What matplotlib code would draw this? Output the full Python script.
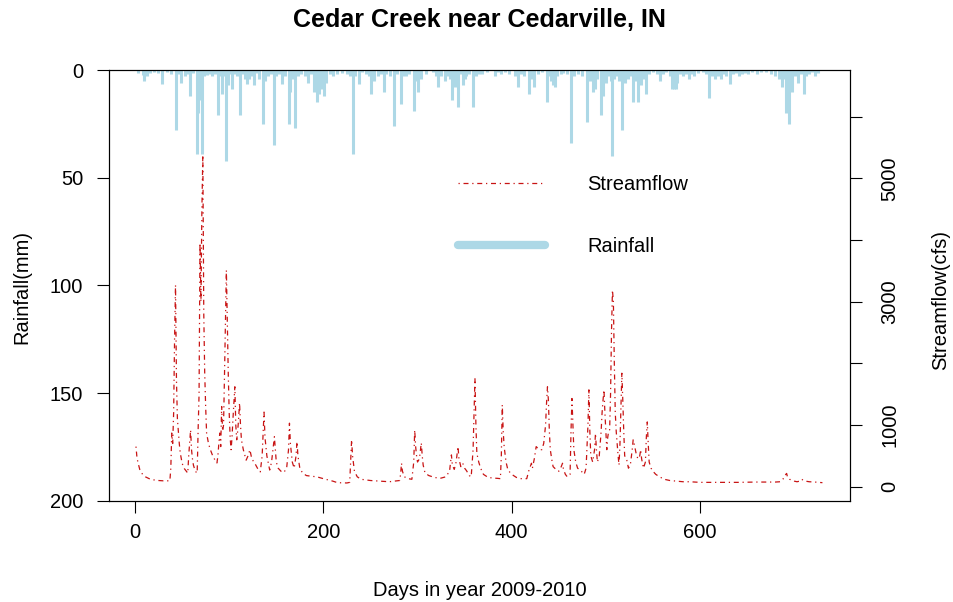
import matplotlib
matplotlib.use("Agg")
import matplotlib.pyplot as plt
from matplotlib.lines import Line2D

plt.rcParams['font.family'] = ['Liberation Sans', 'DejaVu Sans']

# --- data ---
# daily rainfall (mm), only days with rain
rain_days = [3, 8, 10, 13, 16, 20, 24, 29, 34, 38, 43, 46, 49, 53, 55, 58, 62, 66, 67, 68,
             71, 73, 76, 79, 82, 85, 88, 90, 92, 95, 97, 99, 101, 103, 106, 108, 111, 114, 117, 119,
             121, 123, 126, 129, 132, 136, 138, 141, 144, 148, 150, 153, 156, 159, 163, 165, 168, 170, 173, 176,
             181, 184, 187, 190, 193, 195, 197, 199, 201, 203, 207, 210, 215, 220, 225, 228, 231, 234, 238, 241,
             245, 248, 251, 254, 258, 261, 264, 267, 271, 275, 278, 282, 285, 288, 291, 296, 299, 301, 304, 309,
             316, 320, 322, 325, 329, 332, 335, 337, 340, 343, 346, 348, 350, 352, 355, 359, 362, 365, 369, 374,
             382, 385, 389, 393, 397, 403, 407, 410, 413, 418, 421, 424, 428, 432, 437, 440, 442, 444, 446, 448,
             452, 455, 459, 463, 466, 470, 475, 480, 483, 486, 488, 491, 495, 497, 500, 503, 505, 507, 509, 512,
             514, 517, 520, 523, 526, 529, 532, 534, 537, 540, 543, 546, 550, 554, 557, 561, 564, 568, 570, 572,
             574, 576, 579, 582, 585, 588, 591, 594, 598, 603, 606, 610, 613, 616, 619, 622, 625, 628, 632, 635,
             638, 641, 645, 648, 651, 655, 660, 665, 670, 675, 680, 684, 687, 689, 691, 694, 696, 698, 701, 704,
             707, 710, 713, 716, 719, 722, 725]
rain_mm = [1.5, 2.5, 5, 3, 1.5, 1, 1.5, 6.5, 1, 2, 28, 2, 6, 3, 2, 12, 1.5, 39, 20, 14,
           39, 3, 2.5, 2, 3, 2, 21, 3, 11, 3, 42, 7, 2, 9, 2, 3, 21, 2, 4, 6.5,
           4, 3, 7, 1.5, 4, 25, 5, 3, 2, 35, 3, 2, 6.5, 3, 25, 10, 4, 27, 3, 2,
           3, 6, 2, 10, 15, 11, 9, 5, 12, 6, 2, 3, 2, 1.5, 2, 3, 39, 3, 6.5, 1,
           2, 3, 11, 5, 3, 2, 10, 2, 3, 26, 2, 16, 3, 3, 2, 19, 5, 10, 4, 2,
           1, 3, 8, 3, 5, 3, 4, 14, 8, 17, 2, 7, 4, 3, 2, 17, 3, 2, 2, 1,
           3, 1, 2, 1, 2, 3, 8, 2, 3, 11, 4, 8, 2, 1, 15, 3, 5, 7, 8, 3,
           2, 1.5, 2, 34, 3, 2, 3, 24, 5, 10, 9, 4, 21, 12, 6, 3, 5, 40, 4, 3,
           5, 28, 6, 4, 3, 15, 5, 15, 7, 4, 11, 2, 1, 2, 5, 2, 1, 3, 9, 9,
           9, 6, 2, 3, 2, 4, 2, 3, 1.5, 1, 2, 13, 3, 4, 3, 4, 2, 3, 6.5, 2,
           1.5, 3, 2, 1.5, 2, 1, 2, 1, 1, 2, 3, 4, 8, 4, 20, 25, 6, 10, 3, 6,
           2, 11, 3, 2, 1, 3, 1.5]

# streamflow (cfs) at the turning points of the hydrograph
flow_days = [1, 2, 3, 5, 8, 11, 15, 20, 25, 30, 37, 38, 39, 40, 41, 42, 43, 44, 45, 46,
             47, 48, 50, 52, 55, 56, 57, 58, 59, 60, 61, 62, 64, 66, 67, 68, 69, 70, 71, 72,
             73, 74, 75, 76, 78, 80, 83, 87, 88, 89, 90, 91, 92, 93, 94, 95, 96, 97, 98, 99,
             100, 101, 102, 103, 104, 106, 107, 108, 109, 110, 111, 112, 113, 115, 118, 120, 122, 124, 127, 130,
             133, 135, 137, 138, 140, 143, 145, 148, 149, 150, 152, 155, 158, 161, 163, 164, 165, 167, 169, 171,
             172, 173, 175, 178, 182, 187, 193, 200, 210, 215, 225, 228, 229, 230, 231, 233, 236, 240, 250, 260,
             270, 281, 282, 283, 284, 286, 290, 294, 296, 297, 298, 299, 300, 302, 304, 305, 306, 308, 312, 318,
             324, 330, 334, 336, 337, 339, 341, 343, 344, 346, 348, 350, 352, 355, 357, 359, 360, 361, 362, 363,
             365, 367, 370, 375, 380, 385, 388, 389, 390, 391, 392, 394, 396, 400, 405, 410, 416, 418, 421, 422,
             424, 426, 428, 430, 432, 434, 436, 437, 438, 439, 440, 441, 443, 444, 447, 450, 452, 454, 455, 457,
             459, 462, 463, 464, 465, 466, 468, 470, 474, 477, 479, 481, 482, 483, 484, 486, 488, 489, 490, 491,
             493, 494, 495, 496, 497, 498, 499, 500, 501, 502, 503, 504, 505, 506, 507, 508, 509, 510, 511, 513,
             514, 515, 516, 517, 518, 519, 520, 522, 524, 526, 528, 529, 530, 532, 534, 536, 537, 538, 540, 542,
             543, 544, 545, 546, 548, 550, 553, 557, 562, 568, 575, 582, 589, 600, 620, 640, 660, 680, 685, 688,
             690, 692, 693, 695, 697, 700, 703, 706, 708, 710, 712, 716, 722, 730]
flow_cfs = [650, 480, 400, 280, 200, 160, 130, 110, 100, 95, 95, 300, 870, 700, 1200, 2400, 3270, 1730, 1100, 900,
            700, 550, 380, 300, 240, 220, 500, 700, 920, 600, 450, 350, 250, 220, 920, 1500, 3950, 3000, 4500, 5380,
            2810, 1840, 1300, 870, 700, 600, 480, 385, 500, 700, 870, 650, 1300, 900, 1000, 1800, 2700, 3510, 2700, 1840,
            1200, 800, 600, 800, 1100, 1620, 1000, 760, 900, 1100, 1360, 1000, 760, 600, 430, 500, 600, 450, 385, 300,
            240, 500, 1210, 800, 500, 270, 400, 810, 600, 400, 300, 250, 230, 300, 600, 1030, 700, 400, 300, 500,
            730, 500, 300, 220, 180, 170, 160, 130, 90, 65, 60, 70, 400, 760, 500, 250, 160, 120, 100, 90,
            80, 100, 200, 380, 250, 160, 130, 120, 400, 920, 650, 500, 400, 450, 710, 500, 350, 220, 180, 150,
            135, 160, 250, 515, 350, 280, 400, 650, 450, 325, 380, 300, 260, 180, 160, 600, 1160, 1760, 1000, 540,
            400, 300, 200, 150, 140, 135, 130, 500, 1325, 900, 650, 400, 270, 200, 150, 130, 130, 250, 380, 300,
            450, 650, 620, 600, 600, 700, 1000, 1350, 1620, 1400, 900, 600, 400, 325, 280, 250, 300, 380, 280, 200,
            160, 200, 900, 1430, 1000, 600, 400, 300, 250, 200, 300, 1000, 1570, 900, 500, 400, 600, 865, 600, 400,
            500, 700, 900, 1200, 1400, 1570, 1200, 900, 600, 800, 900, 920, 1500, 2500, 3190, 3000, 2000, 1200, 900, 500,
            350, 700, 1300, 1840, 1400, 900, 500, 450, 300, 350, 600, 760, 700, 550, 450, 500, 600, 450, 300, 400,
            800, 1050, 700, 400, 300, 250, 200, 160, 120, 100, 90, 80, 80, 70, 70, 70, 75, 75, 80, 120,
            180, 215, 150, 120, 110, 90, 80, 90, 120, 100, 90, 80, 75, 65]

rain_ticks = [0, 50, 100, 150, 200]
flow_ticks = [0, 1000, 2000, 3000, 4000, 5000, 6000]
flow_labels = ['0', '1000', '', '3000', '', '5000', '']
day_ticks = [0, 200, 400, 600]

FS = 14.5
RED = '#C81414'
fig = plt.figure(figsize=(9.54, 6.02), dpi=100)
ax = fig.add_axes([0.1143, 0.1678, 0.7767, 0.7159])

# rainfall bars hanging from the top
ax.vlines(rain_days, 0, rain_mm, color='#ADD8E6', linewidth=2.2, capstyle='butt')
ax.set_ylim(200, 0)
ax.set_xlim(-27.6, 759.3)
ax.set_yticks(rain_ticks)
ax.set_xticks(day_ticks)
ax.tick_params(axis='y', labelsize=FS, length=8.6, width=0.8, pad=10)
ax.tick_params(axis='x', labelsize=FS, length=8.6, width=0.8, pad=7)
for s in ax.spines.values():
    s.set_linewidth(0.8)

# streamflow on the right axis
ax2 = ax.twinx()
ax2.plot(flow_days, flow_cfs, color=RED, linewidth=0.9, dashes=(1, 3, 4, 3))
ax2.set_ylim(-232, 6757)
ax2.set_yticks(flow_ticks)
ax2.set_yticklabels(flow_labels, rotation=90, va='center')
ax2.tick_params(axis='y', labelsize=FS, length=8.6, width=0.8, pad=13)
for s in ax2.spines.values():
    s.set_linewidth(0.8)

# legend
handles = [Line2D([], [], color=RED, linewidth=0.9, dashes=(1, 3, 4, 3)),
           Line2D([], [], color='#ADD8E6', linewidth=6, solid_capstyle='round')]
ax2.legend(handles, ['Streamflow', 'Rainfall'], loc='upper left',
           bbox_to_anchor=(458 / 954, 1 - 175 / 602), bbox_transform=fig.transFigure,
           frameon=False, fontsize=FS, borderpad=0, borderaxespad=0,
           handlelength=4.3, handletextpad=2.1, labelspacing=2.15)

fig.text(479.5 / 954, 1 - 20 / 602, 'Cedar Creek near Cedarville, IN',
         ha='center', va='center', fontsize=18, fontweight='bold')
fig.text(479.5 / 954, 1 - 590 / 602, 'Days in year 2009-2010',
         ha='center', va='center', fontsize=FS)
fig.text(22 / 954, 1 - 287 / 602, 'Rainfall(mm)', rotation=90,
         ha='center', va='center', fontsize=FS)
fig.text(941 / 954, 1 - 300 / 602, 'Streamflow(cfs)', rotation=90,
         ha='center', va='center', fontsize=FS)

fig.savefig('out.png', dpi=100)
